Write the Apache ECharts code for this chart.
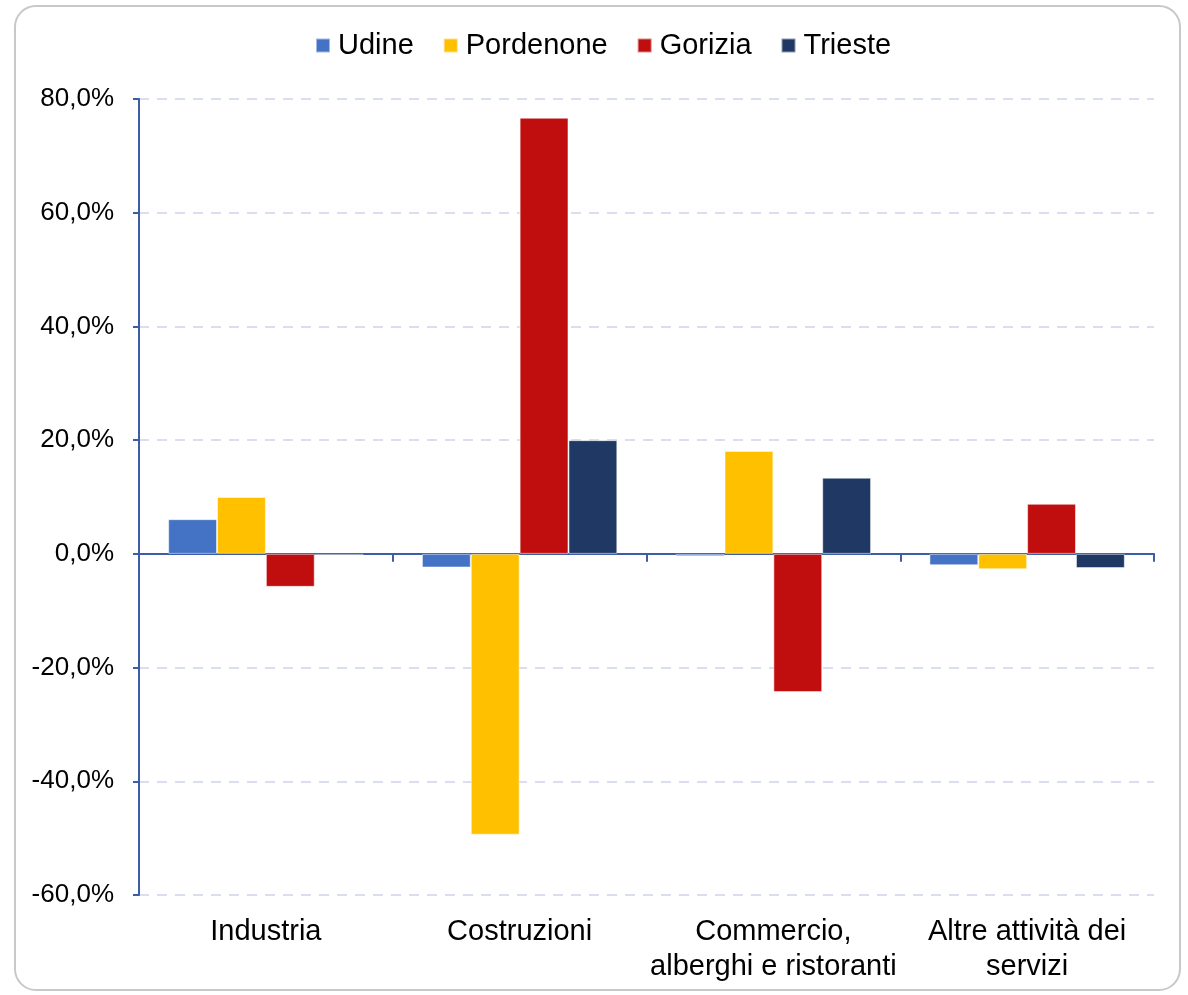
<!DOCTYPE html>
<html><head><meta charset="utf-8">
<script src="https://cdn.jsdelivr.net/npm/echarts@6/dist/echarts.min.js"></script>
<style>
html,body{margin:0;padding:0;background:#fff;}
#frame{position:absolute;left:14px;top:5px;width:1167px;height:986px;border:2px solid #C8C8C8;border-radius:22px;box-sizing:border-box;}
#c{position:absolute;left:0;top:0;width:1188px;height:995px;}
</style></head>
<body>
<div id="frame"></div>
<div id="c"></div>
<script>
const categories = ['Industria', 'Costruzioni', 'Commercio,\nalberghi e ristoranti', 'Altre attività dei\nservizi'];
const seriesNames = ['Udine', 'Pordenone', 'Gorizia', 'Trieste'];
const udine = [6.1, -2.4, -0.4, -2.0];
const pordenone = [10.0, -49.4, 18.1, -2.7];
const gorizia = [-5.8, 76.7, -24.3, 8.8];
const trieste = [-0.3, 20.0, 13.4, -2.5];
const colors = ['#4472C4', '#FFC000', '#C00D0D', '#203864'];
const yTicks = { min: -60, max: 80, interval: 20 };

const chart = echarts.init(document.getElementById('c'), null, {renderer: 'canvas'});
const dataArr = [udine, pordenone, gorizia, trieste];
const fontFamily = '"Liberation Sans", Arial, sans-serif';
chart.setOption({
  animation: false,
  color: colors,
  legend: {
    top: 26, left: 310,
    itemWidth: 14, itemHeight: 14, itemGap: 29,
    icon: 'rect',
    textStyle: { fontFamily, fontSize: 29, color: '#000', padding: [0,0,0,3] },
    data: seriesNames
  },
  grid: { left: 139, right: 34, top: 99, bottom: 100, containLabel: false },
  xAxis: [
    {
      type: 'category', data: categories,
      axisLine: { onZero: true, lineStyle: { color: '#3B5EA6', width: 2 } },
      axisTick: { show: true, length: 8, lineStyle: { color: '#3B5EA6', width: 2 }, inside: false },
      axisLabel: { show: false },
      splitLine: { show: false }
    },
    {
      type: 'category', data: categories, position: 'bottom',
      axisLine: { show: false, onZero: false },
      axisTick: { show: false },
      axisLabel: { show: true, fontFamily, fontSize: 29, color: '#000', margin: 19, lineHeight: 35, interval: 0 },
      splitLine: { show: false }
    }
  ],
  yAxis: {
    type: 'value', min: yTicks.min, max: yTicks.max, interval: yTicks.interval,
    axisLine: { show: true, lineStyle: { color: '#3B5EA6', width: 2 } },
    axisTick: { show: true, length: 6, lineStyle: { color: '#3B5EA6', width: 2 } },
    axisLabel: { fontFamily, fontSize: 26, color: '#000', margin: 25,
      formatter: v => v.toFixed(1).replace('.', ',') + '%' },
    splitLine: { show: true, lineStyle: { color: '#D9DEF0', width: 2, type: [10, 8] } }
  },
  series: seriesNames.map((n, i) => ({
    name: n, type: 'bar', xAxisIndex: 0, data: dataArr[i],
    barGap: '0%', barCategoryGap: '23%',
    itemStyle: { color: colors[i], borderColor: 'rgba(255,255,255,0.5)', borderWidth: 1 }
  }))
});
</script>
</body></html>
